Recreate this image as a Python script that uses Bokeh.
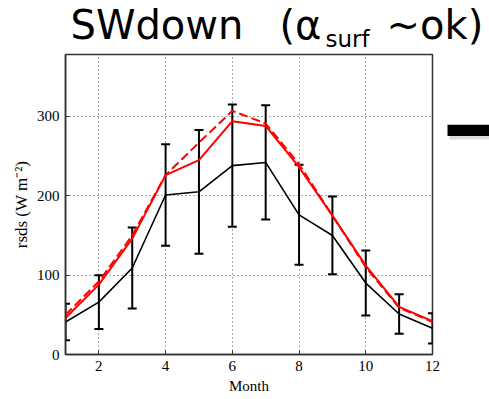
from bokeh.plotting import figure
from bokeh.layouts import column, row
from bokeh.models import (ColumnDataSource, Whisker, TeeHead, BoxAnnotation,
                          FixedTicker, Range1d)
from bokeh.core.properties import value
from bokeh.embed import file_html
from bokeh.resources import INLINE

# ---- data ----
months = [1, 2, 3, 4, 5, 6, 7, 8, 9, 10, 11, 12]
obs_mean = [41, 66, 109, 201, 205, 238, 242, 176, 150, 90, 51, 33]
obs_std = [23, 34, 51, 64, 78, 77, 72, 63, 49, 41, 25, 19]
model_solid = [46, 88, 146, 226, 245, 294, 288, 236, 175, 112, 60, 42]
model_dashed = [50, 92, 150, 226, 267, 307, 291, 240, 175, 110, 59, 41]
x_ticks = [2, 4, 6, 8, 10, 12]
y_ticks = [0, 100, 200, 300]

src = ColumnDataSource(dict(
    month=months,
    obs=obs_mean,
    upper=[m + s for m, s in zip(obs_mean, obs_std)],
    lower=[m - s for m, s in zip(obs_mean, obs_std)],
    solid=model_solid,
    dashed=model_dashed,
))

# ---------------- title strip ----------------
t = figure(width=489, height=53, output_backend="svg", toolbar_location=None,
           x_range=Range1d(0, 489), y_range=Range1d(53, 0),
           min_border_left=0, min_border_right=0, min_border_top=0, min_border_bottom=0)
t.axis.visible = False
t.grid.visible = False
t.outline_line_color = None
t.background_fill_color = "white"
t.border_fill_color = "white"
title_font = value("DejaVu Sans")
t.text(x=[70], y=[24], text=["SWdown"], text_font=title_font, text_font_size="40px",
       text_color="black", text_baseline="middle")
t.text(x=[279], y=[24], text=["(\u03b1"], text_font=title_font, text_font_size="40px",
       text_color="black", text_baseline="middle")
t.text(x=[325], y=[38], text=["surf"], text_font=title_font, text_font_size="23px",
       text_color="black", text_baseline="middle")
t.text(x=[386], y=[24], text=["~ok)"], text_font=title_font, text_font_size="40px",
       text_color="black", text_baseline="middle")

# ---------------- chart ----------------
p = figure(width=441, height=346, output_backend="svg", toolbar_location=None,
           x_range=Range1d(1, 12), y_range=Range1d(0, 378),
           min_border_left=65, min_border_right=9, min_border_top=1,
           min_border_bottom=45)
p.background_fill_color = "white"
p.border_fill_color = "white"
p.outline_line_color = "#333333"
p.outline_line_width = 1.5

serif = "Liberation Serif"
for ax in (p.xaxis, p.yaxis):
    ax.major_label_text_font = serif
    ax.major_label_text_font_size = "15px"
    ax.major_label_text_color = "black"
    ax.axis_label_text_font = serif
    ax.axis_label_text_font_size = "15px"
    ax.axis_label_text_font_style = "normal"
    ax.axis_label_text_color = "black"
    ax.major_tick_in = 4
    ax.major_tick_out = 0
    ax.minor_tick_line_color = None
    ax.axis_line_color = "#333333"
    ax.axis_line_width = 1.5
    ax.major_tick_line_color = "#333333"
    ax.major_label_standoff = 6
    ax.axis_label_standoff = 4
p.yaxis.axis_label_text_font_size = "17px"
p.yaxis.axis_label_standoff = 3

p.xaxis.ticker = FixedTicker(ticks=x_ticks)
p.yaxis.ticker = FixedTicker(ticks=y_ticks)
p.xaxis.axis_label = "Month"
p.yaxis.axis_label = "rsds (W m\u207b\u00b2)"

p.xgrid.ticker = FixedTicker(ticks=x_ticks)
p.ygrid.ticker = FixedTicker(ticks=y_ticks[1:])
for g in (p.xgrid, p.ygrid):
    g.grid_line_color = "#555555"
    g.grid_line_dash = "1 3"
    g.grid_line_width = 1

wh = Whisker(source=src, base="month", upper="upper", lower="lower",
             line_color="black", line_width=2,
             upper_head=TeeHead(size=9, line_width=2, line_color="black"),
             lower_head=TeeHead(size=9, line_width=2, line_color="black"))
p.add_layout(wh)

p.line("month", "obs", source=src, line_color="black", line_width=1.6)
p.line("month", "dashed", source=src, line_color="#ff0000", line_width=2,
       line_dash="9 4")
p.line("month", "solid", source=src, line_color="#ff0000", line_width=2)

# ---------------- right strip with slide bar decoration ----------------
s = figure(width=48, height=346, output_backend="svg", toolbar_location=None,
           x_range=Range1d(0, 48), y_range=Range1d(346, 0),
           min_border_left=0, min_border_right=0, min_border_top=0, min_border_bottom=0)
s.axis.visible = False
s.grid.visible = False
s.outline_line_color = None
s.background_fill_color = "white"
s.border_fill_color = "white"
s.add_layout(BoxAnnotation(left=8, right=48, top=84, bottom=98,
                           fill_color="#999999", fill_alpha=0.35, line_color=None))
s.add_layout(BoxAnnotation(left=6, right=48, top=81, bottom=94,
                           fill_color="black", fill_alpha=1.0, line_color=None))

layout = column(t, row(p, s, spacing=0), spacing=0)
open("out.html", "w").write(file_html(layout, INLINE))
